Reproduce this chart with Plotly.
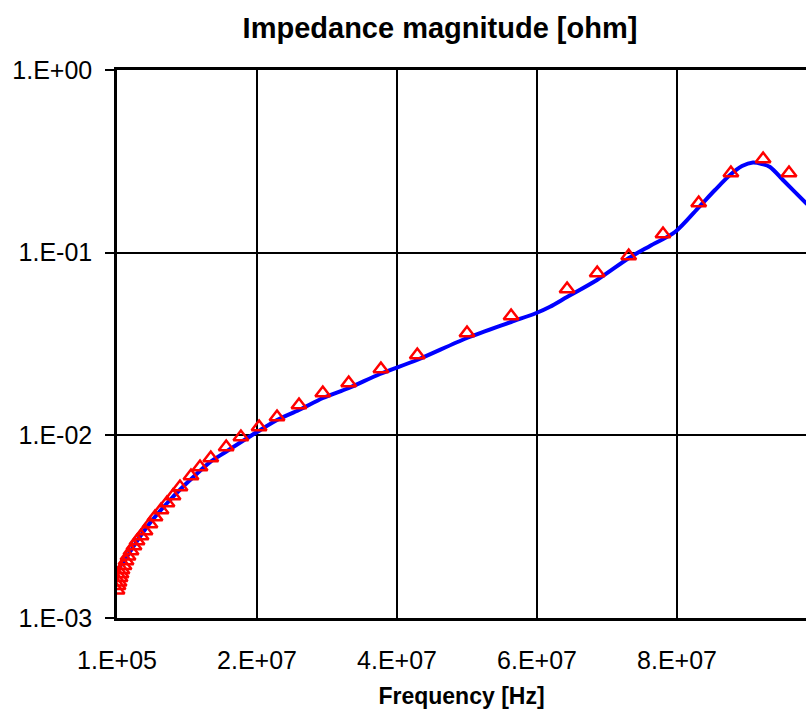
import plotly.graph_objects as go

# Fitted curve (blue line): frequency [Hz], impedance magnitude [ohm]
line_freq = [0.1e6, 1.24e6, 2.39e6, 4.81e6, 7.67e6, 10.53e6, 13.39e6, 15.67e6, 20.1e6,
             22.96e6, 26.1e6, 29.53e6, 33.24e6, 37.67e6, 42.96e6, 50.1e6, 56.39e6,
             60.0e6, 61.96e6, 64.39e6, 68.67e6, 73.24e6, 76.24e6, 79.81e6, 83.24e6,
             85.53e6, 87.67e6, 89.39e6, 90.96e6, 92.24e6, 93.39e6, 95.24e6, 98.53e6, 99.96e6]
line_z = [1.83e-3, 2.08e-3, 2.446e-3, 3.311e-3, 4.426e-3, 5.69e-3, 7.14e-3, 8.13e-3, 1.042e-2,
          1.213e-2, 1.377e-2, 1.601e-2, 1.816e-2, 2.167e-2, 2.585e-2, 3.411e-2, 4.173e-2,
          4.674e-2, 5.06e-2, 5.72e-2, 7.09e-2, 9.35e-2, 0.1088, 0.1298, 0.1778,
          0.2203, 0.2661, 0.298, 0.3116, 0.3058, 0.2944, 0.2499, 0.187, 0.165]

# Measured points (red triangles)
meas_freq = [0.1e6, 0.24e6, 0.39e6, 0.53e6, 0.67e6, 0.81e6, 1.1e6, 1.39e6, 1.67e6, 2.1e6,
             2.53e6, 2.96e6, 3.53e6, 4.1e6, 4.81e6, 5.53e6, 6.39e6, 7.24e6, 8.1e6, 9.1e6,
             10.67e6, 11.96e6, 13.5e6, 15.7e6, 17.8e6, 20.4e6, 22.96e6, 26.1e6, 29.5e6,
             33.2e6, 37.8e6, 43.0e6, 50.1e6, 56.4e6, 64.4e6, 68.7e6, 73.2e6, 78.1e6,
             83.2e6, 87.8e6, 92.4e6, 96.1e6]
meas_z = [1.42e-3, 1.50e-3, 1.57e-3, 1.66e-3, 1.74e-3, 1.83e-3, 1.93e-3, 2.05e-3, 2.18e-3, 2.33e-3,
          2.48e-3, 2.64e-3, 2.81e-3, 2.99e-3, 3.27e-3, 3.57e-3, 3.90e-3, 4.26e-3, 4.66e-3, 5.21e-3,
          5.99e-3, 6.71e-3, 7.51e-3, 8.63e-3, 9.79e-3, 1.111e-2, 1.260e-2, 1.466e-2, 1.704e-2,
          1.933e-2, 2.306e-2, 2.754e-2, 3.633e-2, 4.499e-2, 6.325e-2, 7.737e-2, 9.59e-2, 0.1265,
          0.187, 0.2729, 0.3256, 0.2729]

x_tickvals = [1e5, 2.01e7, 4.01e7, 6.01e7, 8.01e7]
x_ticktext = ["1.E+05", "2.E+07", "4.E+07", "6.E+07", "8.E+07"]
y_tickvals = [1e-3, 1e-2, 1e-1, 1e0]
y_ticktext = ["1.E-03", "1.E-02", "1.E-01", "1.E+00"]

FONT = "Liberation Sans, Arial, sans-serif"

fig = go.Figure()
fig.add_trace(go.Scatter(x=line_freq, y=line_z, mode="lines",
                         line=dict(color="#0000FF", width=4, shape="spline", smoothing=0.8),
                         showlegend=False))
fig.add_trace(go.Scatter(x=meas_freq, y=meas_z, mode="markers",
                         marker=dict(symbol="triangle-up-open", size=13, color="#FF0000",
                                     line=dict(color="#FF0000", width=2.5)),
                         showlegend=False))

fig.update_layout(
    width=806, height=725,
    margin=dict(l=117, r=0, t=70, b=107),
    paper_bgcolor="white", plot_bgcolor="white",
    font=dict(family=FONT, color="black", size=24),
    title=dict(text="<b>Impedance magnitude [ohm]</b>", x=440/806, xanchor="center",
               xref="container", y=1-28/725, yanchor="middle",
               yref="container", font=dict(family=FONT, size=29, color="black")),
)
fig.update_xaxes(
    type="linear", range=[1e5, 1e5 + (806-117)/140*2e7],
    tickvals=x_tickvals, ticktext=x_ticktext, ticks="", ticklabelstandoff=18,
    showgrid=True, gridcolor="black", gridwidth=2,
    showline=True, linecolor="black", linewidth=2.5, mirror=True,
    zeroline=False, tickfont=dict(size=25, family=FONT),
    title=dict(text="<b>Frequency [Hz]</b>", font=dict(size=23, family=FONT), standoff=16),
)
fig.update_yaxes(
    type="log", range=[-3, 0],
    tickvals=y_tickvals, ticktext=y_ticktext, ticks="outside", ticklen=9, tickwidth=2,
    tickcolor="black", ticklabelstandoff=8,
    showgrid=True, gridcolor="black", gridwidth=2,
    showline=True, linecolor="black", linewidth=2.5,
    zeroline=False, tickfont=dict(size=25, family=FONT),
)

fig.write_html("out.html")
